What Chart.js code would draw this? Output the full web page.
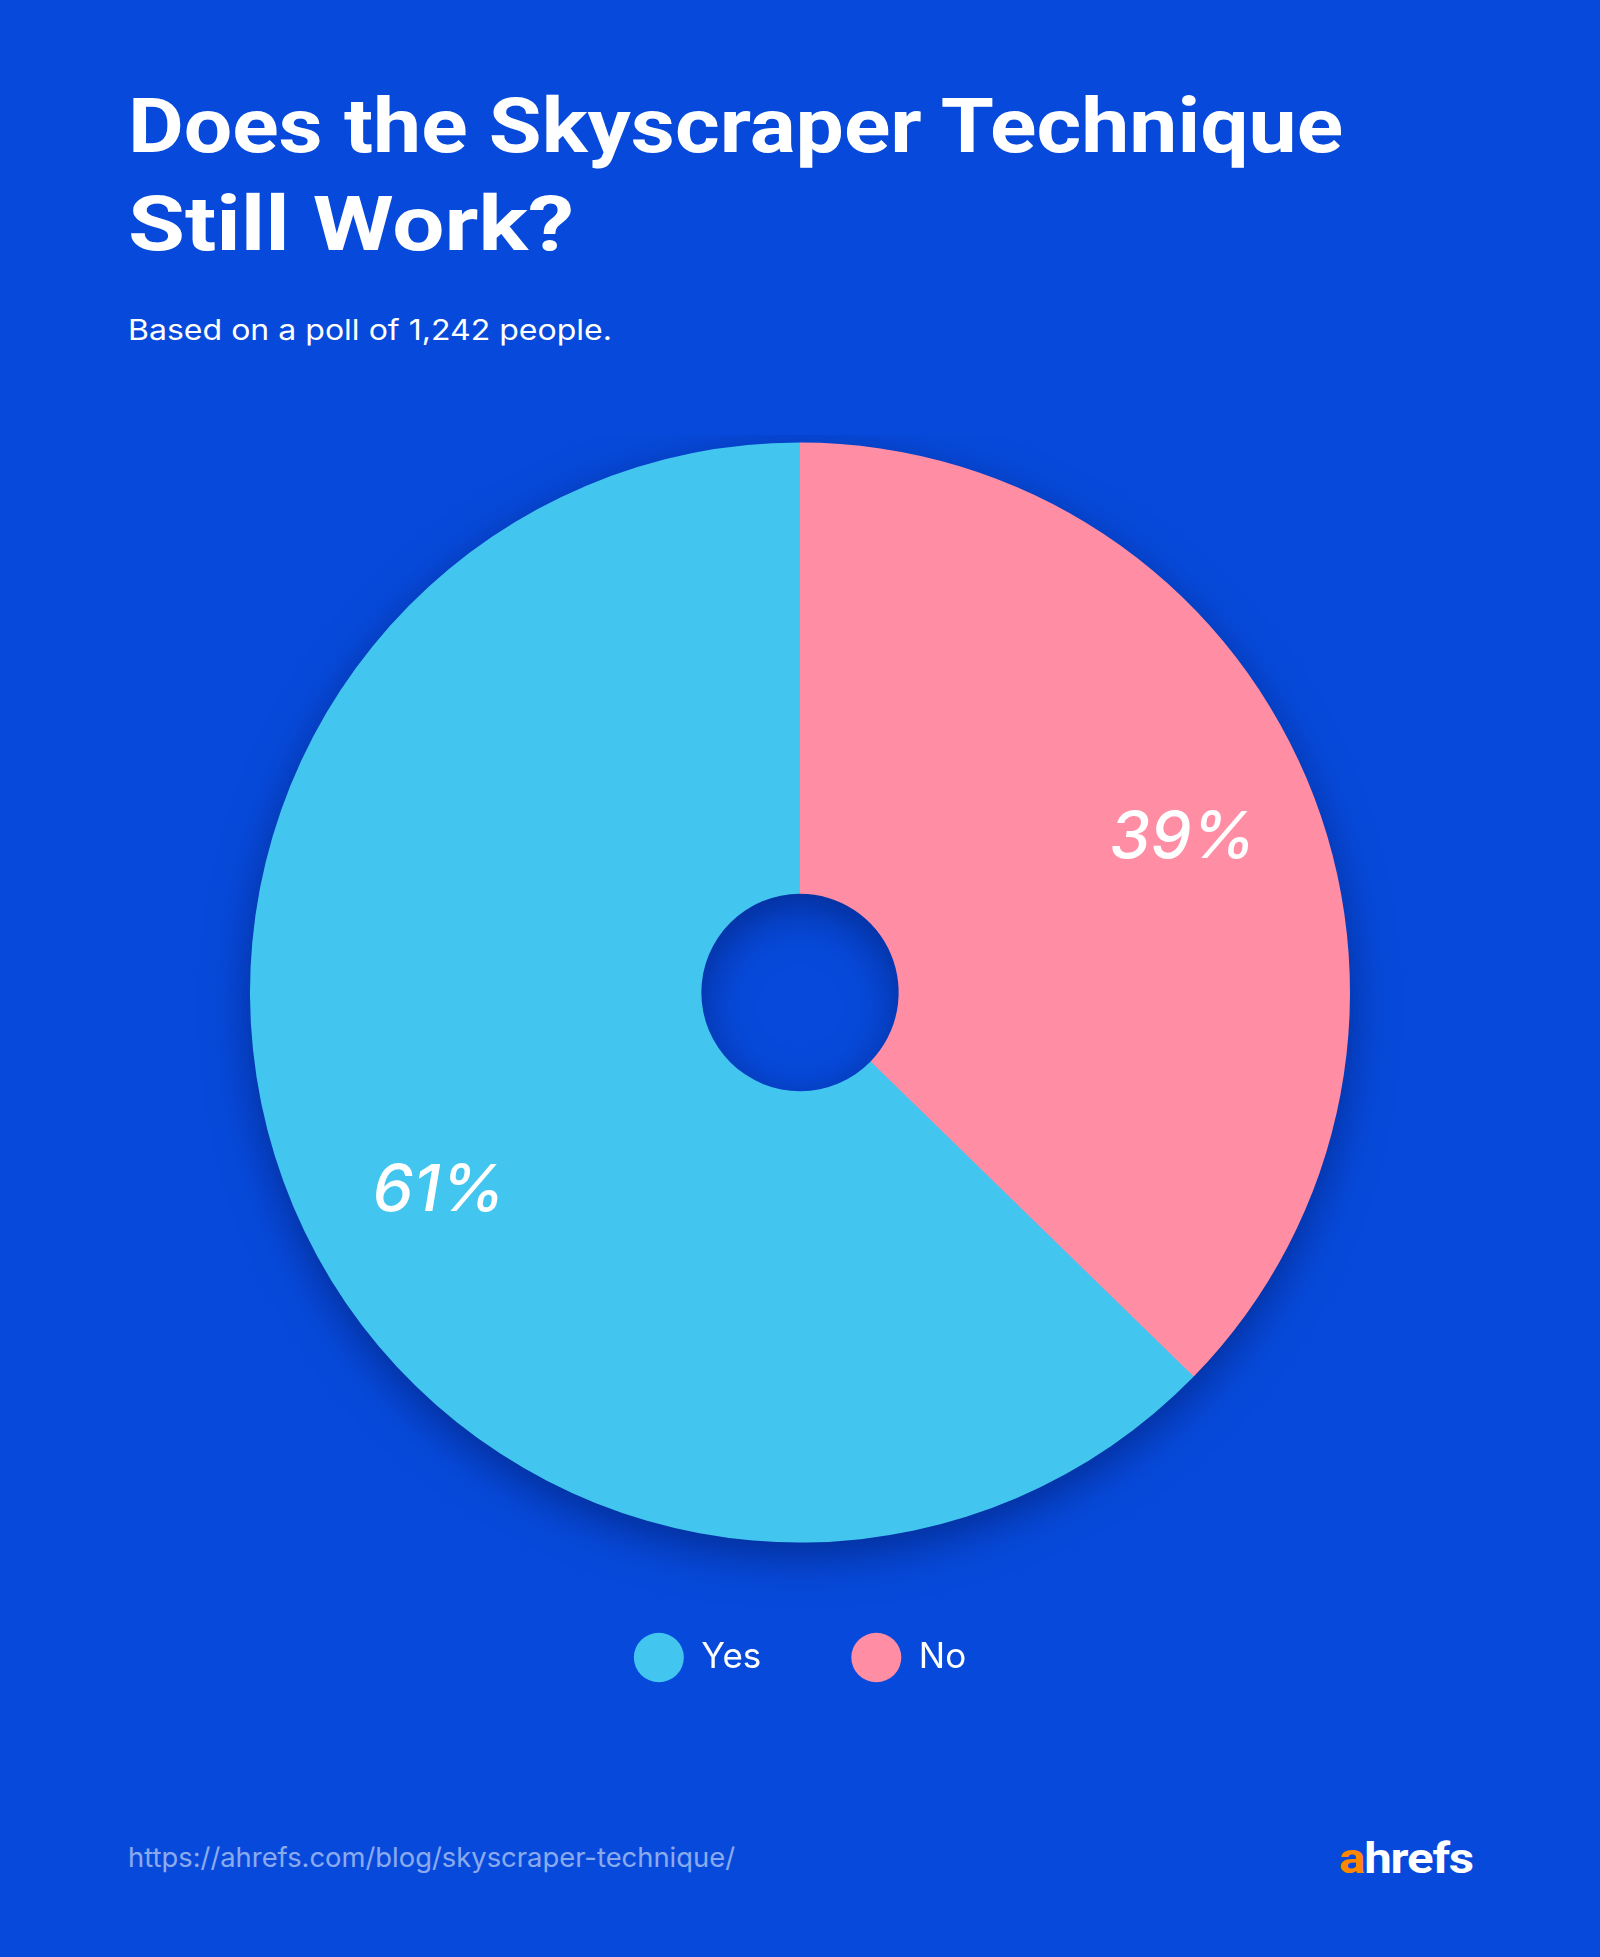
<!DOCTYPE html>
<html>
<head>
<meta charset="utf-8">
<script src="https://cdn.jsdelivr.net/npm/chart.js@4"></script>
<style>
  html, body { margin: 0; padding: 0; }
  body { width: 1600px; height: 1957px; background: #074ADB; position: relative; overflow: hidden; font-family: Inter, "Noto Sans", sans-serif; }
  .title { position: absolute; left: 128px; color: #fff; font-family: Roboto, "Noto Sans", sans-serif; font-weight: 700; font-size: 76px; line-height: 1; white-space: nowrap; transform-origin: 0 0; }
  .sub { position: absolute; left: 128px; top: 313px; color: #fff; font-size: 28px; font-weight: 400; white-space: nowrap; transform-origin: 0 0; }
  .url { position: absolute; left: 128px; top: 1841px; color: rgba(255,255,255,0.55); font-size: 27px; white-space: nowrap; transform-origin: 0 0; }
  .logo { position: absolute; left: 1339px; top: 1834px; font-family: Roboto, "Noto Sans", sans-serif; font-weight: 700; font-size: 42px; color: #fff; letter-spacing: -1px; white-space: nowrap; transform-origin: 0 0; }
  .logo span { color: #FF8800; }
  #wrap { position: absolute; left: 0; top: 435px; width: 1600px; height: 1250px; }
</style>
</head>
<body>
<div class="title" id="t1" style="top:88px">Does the Skyscraper Technique</div>
<div class="title" id="t2" style="top:186px">Still Work?</div>
<div class="sub" id="sub">Based on a poll of 1,242 people.</div>
<div class="url" id="url">https://ahrefs.com/blog/skyscraper-technique/</div>
<div class="logo" id="logo"><span>a</span>hrefs</div>
<div id="wrap"><canvas id="c"></canvas></div>
<script>
// ---- data ----
const categories = ['Yes', 'No'];
// slice shares as drawn in the picture (boundary measured at ~134° from top)
const sliceValues = [62.7, 37.3];
// printed percentage labels
const pctLabels = ['61%', '39%'];
const sliceColors = ['#42C6F0', '#FF8DA4'];

// fit text widths to reference
function fitWidth(id, target) {
  const el = document.getElementById(id);
  const w = el.getBoundingClientRect().width;
  el.style.transform = 'scaleX(' + (target / w) + ')';
}
fitWidth('t1', 1215);
fitWidth('t2', 446);
fitWidth('sub', 484);
fitWidth('url', 607);
fitWidth('logo', 134);

const total = sliceValues.reduce((a, b) => a + b, 0);

const ringShadow = {
  id: 'ringShadow',
  beforeDatasetsDraw(chart) {
    const arc = chart.getDatasetMeta(0).data[0];
    if (!arc) return;
    const {x, y, innerRadius, outerRadius} = arc.getProps(['x', 'y', 'innerRadius', 'outerRadius'], true);
    const ctx = chart.ctx;
    ctx.save();
    ctx.shadowColor = 'rgba(0, 20, 90, 0.55)';
    ctx.shadowBlur = 45;
    ctx.shadowOffsetY = 14;
    ctx.beginPath();
    ctx.arc(x, y, outerRadius - 1, 0, Math.PI * 2, false);
    ctx.arc(x, y, innerRadius + 1, 0, Math.PI * 2, true);
    ctx.closePath();
    ctx.fillStyle = sliceColors[0];
    ctx.fill();
    ctx.restore();
  }
};

const sliceLabels = {
  id: 'sliceLabels',
  afterDatasetsDraw(chart, args, opts) {
    const ctx = chart.ctx;
    chart.getDatasetMeta(0).data.forEach((arc, i) => {
      const p = arc.getProps(['x', 'y', 'startAngle', 'endAngle', 'outerRadius'], true);
      const mid = (p.startAngle + p.endAngle) / 2 + (opts.shift[i] || 0) * Math.PI / 180;
      const r = p.outerRadius * opts.radiusFrac;
      ctx.save();
      ctx.font = opts.font;
      ctx.fillStyle = '#fff';
      ctx.textAlign = 'center';
      ctx.textBaseline = 'middle';
      ctx.fillText(pctLabels[i], p.x + Math.cos(mid) * r, p.y + Math.sin(mid) * r);
      ctx.restore();
    });
  }
};

new Chart(document.getElementById('c'), {
  type: 'doughnut',
  data: {
    labels: categories,
    datasets: [{
      data: sliceValues,
      backgroundColor: sliceColors,
      borderWidth: 0,
      hoverOffset: 0
    }]
  },
  plugins: [ringShadow, sliceLabels],
  options: {
    responsive: true,
    maintainAspectRatio: false,
    animation: false,
    radius: 550,
    cutout: 100,
    rotation: sliceValues[1] / total * 360,
    layout: { padding: 0 },
    events: [],
    plugins: {
      tooltip: { enabled: false },
      sliceLabels: { radiusFrac: 0.75, shift: [-6, 1], font: 'italic 500 65px Inter, "Noto Sans", sans-serif' },
      legend: {
        position: 'bottom',
        labels: {
          usePointStyle: true,
          pointStyle: 'circle',
          pointStyleWidth: 50,
          boxHeight: 35,
          padding: 90,
          color: '#fff',
          font: { family: 'Inter, "Noto Sans", sans-serif', size: 35, weight: '400' }
        }
      }
    }
  }
});
</script>
</body>
</html>
